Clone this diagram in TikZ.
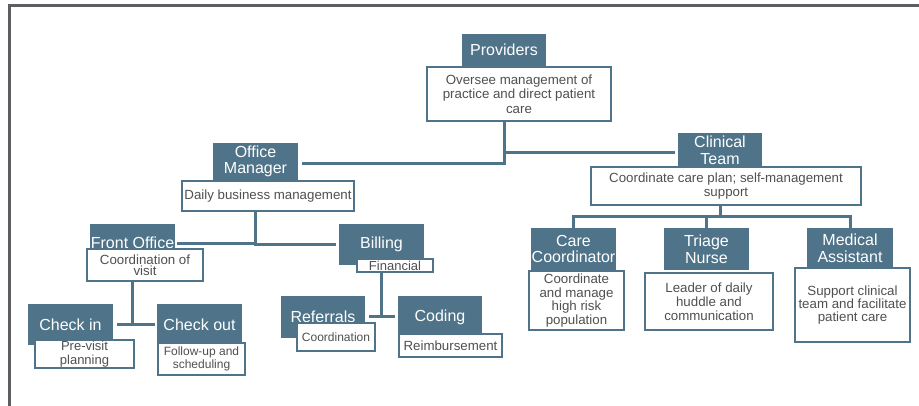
\documentclass[tikz,border=0pt]{standalone}
\usepackage{fontspec}
\setmainfont{Liberation Sans}
\usetikzlibrary{positioning}

\definecolor{slate}{RGB}{79,115,137}
\definecolor{inkgray}{RGB}{80,80,80}
\definecolor{framegray}{RGB}{92,94,97}

\begin{document}
\begin{tikzpicture}[x=1pt, y=-1pt]

	% Styles
	\tikzset{
		role/.style={
			rectangle, fill=slate, inner sep=0pt,
			align=center, text=white, font=\fontsize{16}{16.6}\selectfont
		},
		duty/.style={
			rectangle, draw=slate, line width=2.4pt, fill=white, inner sep=0pt,
			align=center, text=inkgray, font=\fontsize{13.3}{14}\selectfont
		},
		small/.style={font=\fontsize{12}{13}\selectfont},
		connector/.style={draw=slate, line width=3pt}
	}

	\useasboundingbox (0,0) rectangle (919,406);

	% Frame
	\draw[framegray, line width=2.8pt] (9.5,406) -- (9.5,5.3) -- (919,5.3);

	% Providers
	\node (prov) [role, minimum width=84pt, minimum height=32pt] at (504,50) {Providers};
	\node (prov-d) [duty, minimum width=184pt, minimum height=54pt, font=\fontsize{13.3}{14.5}\selectfont] at (519,94) {Oversee management of\\practice and direct patient\\care};

	% Office side
	\node (mgr) [role, minimum width=85pt, minimum height=37pt] at (255.5,161.5) {Office\\Manager};
	\node (mgr-d) [duty, minimum width=172pt, minimum height=30pt] at (268,196) {Daily business management};

	\node (front) [role, minimum width=85pt, minimum height=37pt] at (132.5,242.5) {Front Office};
	\node (bill) [role, minimum width=85pt, minimum height=41pt] at (381.5,244.5) {Billing};
	\node (front-d) [duty, minimum width=116pt, minimum height=32pt, font=\fontsize{13.3}{11.5}\selectfont] at (145,265) {Coordination of\\visit};
	\node (bill-d) [duty, minimum width=76pt, minimum height=13pt, font=\fontsize{13}{13}\selectfont] at (395,265.5) {Financial};

	\node (checkin) [role, minimum width=85pt, minimum height=41pt] at (70.5,324.5) {Check in};
	\node (checkout) [role, minimum width=85pt, minimum height=41pt] at (199.5,324.5) {Check out};
	\node (checkin-d) [duty, minimum width=99pt, minimum height=28pt, font=\fontsize{13}{14}\selectfont] at (84.5,354) {Pre-visit\\planning};
	\node (checkout-d) [duty, small, minimum width=87pt, minimum height=32pt] at (201.5,359) {Follow-up and\\scheduling};

	\node (refer) [role, minimum width=84pt, minimum height=42pt] at (323,317) {Referrals};
	\node (coding) [role, minimum width=84pt, minimum height=42pt] at (440,317) {Coding};
	\node (refer-d) [duty, small, minimum width=78pt, minimum height=28pt] at (336,337) {Coordination};
	\node (coding-d) [duty, minimum width=103pt, minimum height=23pt] at (450.5,345.5) {Reimbursement};

	% Clinical side
	\node (clin) [role, minimum width=84pt, minimum height=34pt] at (720,150) {Clinical\\Team};
	\node (clin-d) [duty, minimum width=270pt, minimum height=38pt, font=\fontsize{13.3}{13.5}\selectfont] at (726,186) {Coordinate care plan; self-management\\support};

	\node (care) [role, minimum width=85pt, minimum height=42pt] at (573.5,249) {Care\\Coordinator};
	\node (triage) [role, minimum width=85pt, minimum height=42pt] at (706.5,249) {Triage\\Nurse};
	\node (med) [role, minimum width=86pt, minimum height=40pt] at (850,248) {Medical\\Assistant};
	\node (care-d) [duty, minimum width=95pt, minimum height=59pt, font=\fontsize{13.3}{13.7}\selectfont] at (576.5,300.5) {Coordinate\\and manage\\high risk\\population};
	\node (triage-d) [duty, minimum width=128pt, minimum height=57pt] at (709,301.5) {Leader of daily\\huddle and\\communication};
	\node (med-d) [duty, minimum width=115pt, minimum height=74pt, font=\fontsize{13.3}{13.3}\selectfont] at (852.5,305) {Support clinical\\team and facilitate\\patient care};

	% Connectors: Providers
	\draw[connector] (prov-d.south -| prov) |- ([xshift=4pt,yshift=-2.5pt]mgr.east);
	\draw[connector] (prov-d.south -| prov) |- ([xshift=-3pt,yshift=-3pt]clin.west);

	% Connectors: Office Manager
	\draw[connector] (mgr-d.south -| mgr) |- ([xshift=2pt,yshift=-1.5pt]front.east);
	\draw[connector] (mgr-d.south -| mgr) |- ([xshift=-3pt]bill.west);
	\draw[connector] (front-d.south -| front) |- ([xshift=4pt]checkin.east);
	\draw[connector] (front-d.south -| front) |- ([xshift=-2pt]checkout.west);
	\draw[connector] (bill-d.south -| bill) |- ([xshift=4pt]refer.east);
	\draw[connector] (bill-d.south -| bill) |- ([xshift=-3pt]coding.west);

	% Connectors: Clinical Team
	\coordinate (bus) at (720,217);
	\draw[connector] (clin-d.south -| clin) -- (bus);
	\draw[connector] (care.north) |- (bus);
	\draw[connector] (triage.north) |- (bus);
	\draw[connector] (med.north) |- (bus);

\end{tikzpicture}
\end{document}
